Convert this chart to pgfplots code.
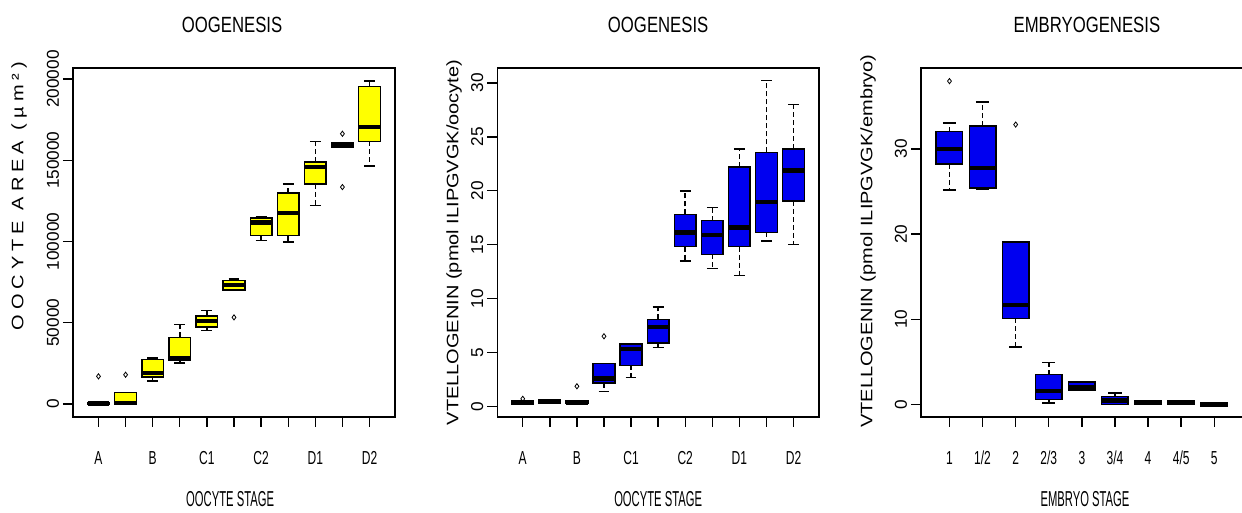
\documentclass[border=0pt]{standalone}
\usepackage{pgfplots}
\pgfplotsset{compat=1.18}
\usepgfplotslibrary{statistics}
\usepackage{fontspec}
\setmainfont{Liberation Sans}
\newfontfamily\titlefont[FakeStretch=0.76]{Liberation Sans}
\newfontfamily\tickfont[FakeStretch=0.64]{Liberation Sans}
\newfontfamily\xlabfont[FakeStretch=0.52]{Liberation Sans}
\newfontfamily\spacedfont[LetterSpace=25]{Liberation Sans}
\definecolor{rblue}{RGB}{0,0,240}
\definecolor{ryellow}{RGB}{255,255,0}
\pgfplotsset{
  rpanel/.style={
    scale only axis, width=161pt, height=174.5pt,
    anchor=south west,
    axis line style={line width=0.75pt},
    tick style={line width=0.7pt, black},
    tick align=outside, major tick length=5pt,
    xtick pos=bottom, ytick pos=left,
    xtick={1,...,11},
    tick label style={font=\tickfont\fontsize{9.4}{10}\selectfont},
    xticklabel style={anchor=center, yshift=-15.5pt},
    yticklabel style={font=\fontsize{8.6}{9}\selectfont, anchor=center, xshift=-5pt, rotate=90},
    title style={font=\titlefont\fontsize{11}{12}\selectfont, anchor=center},
    xlabel style={font=\xlabfont\fontsize{10.8}{12}\selectfont, anchor=center},
    ylabel style={anchor=center},
    boxplot/draw direction=y,
    boxplot/box extend=0.8,
    boxplot/whisker extend=0.4,
    boxplot/every median/.style={line width=2.2pt, black},
    boxplot/draw/lower whisker/.code={%
      \draw[black, line width=0.75pt, dash pattern=on 2.5pt off 1.5pt]
        (boxplot box cs:\pgfplotsboxplotvalue{lower quartile},0.5) --
        (boxplot box cs:\pgfplotsboxplotvalue{lower whisker},0.5);
      \draw[black, line width=0.75pt]
        (boxplot whisker cs:\pgfplotsboxplotvalue{lower whisker},0) --
        (boxplot whisker cs:\pgfplotsboxplotvalue{lower whisker},1);},
    boxplot/draw/upper whisker/.code={%
      \draw[black, line width=0.75pt, dash pattern=on 2.5pt off 1.5pt]
        (boxplot box cs:\pgfplotsboxplotvalue{upper quartile},0.5) --
        (boxplot box cs:\pgfplotsboxplotvalue{upper whisker},0.5);
      \draw[black, line width=0.75pt]
        (boxplot whisker cs:\pgfplotsboxplotvalue{upper whisker},0) --
        (boxplot whisker cs:\pgfplotsboxplotvalue{upper whisker},1);},
  },
  outl/.style={only marks, mark=diamond, mark size=1.3pt, black, line width=0.4pt, forget plot},
}
\begin{document}
\begin{tikzpicture}
\useasboundingbox (0,0) rectangle (621pt,256.5pt);
% ---------------- Panel 1 (values in thousands of um^2) ----------------
\begin{axis}[rpanel, at={(36.5pt,48pt)},
  xmin=0.06, xmax=11.94, ymin=-8, ymax=206.77,
  xticklabels={A,,B,,C1,,C2,,D1,,D2},
  ytick={0,50,100,150,200},
  yticklabels={0,50000,100000,150000,200000},
  boxplot/every box/.style={draw=black, fill=ryellow, line width=0.75pt},
  title={OOGENESIS}, title style={at={(axis description cs:0.494,1.09)}},
  xlabel={OOCYTE STAGE}, xlabel style={at={(axis description cs:0.488,-0.235)}},
  ylabel={\scalebox{1}[0.83]{\spacedfont\fontsize{10}{12}\selectfont OOCYTE AREA (µm²)}},
  ylabel style={at={(axis description cs:-0.1677,0.633)}},
]
\addplot[boxplot prepared={draw position=1, lower whisker=0, lower quartile=0, median=0.3, upper quartile=0.8, upper whisker=1.0}] coordinates {};
\addplot[boxplot prepared={draw position=2, lower whisker=0, lower quartile=0, median=0.6, upper quartile=7.2, upper whisker=7.2}] coordinates {};
\addplot[boxplot prepared={draw position=3, lower whisker=14.0, lower quartile=16.6, median=19.0, upper quartile=27.3, upper whisker=28.3}] coordinates {};
\addplot[boxplot prepared={draw position=4, lower whisker=25.2, lower quartile=26.9, median=28.3, upper quartile=41.0, upper whisker=48.8}] coordinates {};
\addplot[boxplot prepared={draw position=5, lower whisker=45.1, lower quartile=47.4, median=50.9, upper quartile=54.3, upper whisker=57.6}] coordinates {};
\addplot[boxplot prepared={draw position=6, lower whisker=70.0, lower quartile=70.0, median=73.4, upper quartile=76.1, upper whisker=76.9}] coordinates {};
\addplot[boxplot prepared={draw position=7, lower whisker=100.7, lower quartile=103.6, median=111.8, upper quartile=114.4, upper whisker=115.5}] coordinates {};
\addplot[boxplot prepared={draw position=8, lower whisker=99.7, lower quartile=103.6, median=117.5, upper quartile=129.8, upper whisker=135.4}] coordinates {};
\addplot[boxplot prepared={draw position=9, lower whisker=122.2, lower quartile=135.4, median=145.8, upper quartile=148.9, upper whisker=161.6}] coordinates {};
\addplot[boxplot prepared={draw position=10, lower whisker=158.1, lower quartile=158.1, median=159.4, upper quartile=160.6, upper whisker=160.6}] coordinates {};
\addplot[boxplot prepared={draw position=11, lower whisker=146.6, lower quartile=161.6, median=170.4, upper quartile=195.5, upper whisker=198.7}] coordinates {};
\addplot[outl] coordinates {(1,17.0) (2,18.0) (6,53.3) (10,166.3) (10,133.5)};
\end{axis}
% ---------------- Panel 2 ----------------
\begin{axis}[rpanel, at={(248.65pt,48pt)}, width=160.85pt,
  xmin=0.06, xmax=11.94, ymin=-0.99, ymax=31.39,
  xticklabels={A,,B,,C1,,C2,,D1,,D2},
  ytick={0,5,...,30},
  yticklabels={0,5,10,15,20,25,30},
  boxplot/every box/.style={draw=black, fill=rblue, line width=0.75pt},
  title={OOGENESIS}, title style={at={(axis description cs:0.5,1.09)}},
  xlabel={OOCYTE STAGE}, xlabel style={at={(axis description cs:0.5,-0.235)}},
  ylabel={\scalebox{1}[0.83]{\fontsize{10}{12}\selectfont VTELLOGENIN (pmol ILIPGVGK/oocyte)}},
  ylabel style={at={(axis description cs:-0.1346,0.5)}},
]
\addplot[boxplot prepared={draw position=1, lower whisker=0.15, lower quartile=0.2, median=0.35, upper quartile=0.5, upper whisker=0.55}] coordinates {};
\addplot[boxplot prepared={draw position=2, lower whisker=0.25, lower quartile=0.3, median=0.45, upper quartile=0.6, upper whisker=0.62}] coordinates {};
\addplot[boxplot prepared={draw position=3, lower whisker=0.2, lower quartile=0.25, median=0.35, upper quartile=0.5, upper whisker=0.55}] coordinates {};
\addplot[boxplot prepared={draw position=4, lower whisker=1.39, lower quartile=2.17, median=2.57, upper quartile=3.97, upper whisker=3.97}] coordinates {};
\addplot[boxplot prepared={draw position=5, lower whisker=2.67, lower quartile=3.81, median=5.3, upper quartile=5.76, upper whisker=5.76}] coordinates {};
\addplot[boxplot prepared={draw position=6, lower whisker=5.45, lower quartile=5.89, median=7.37, upper quartile=8.06, upper whisker=9.23}] coordinates {};
\addplot[boxplot prepared={draw position=7, lower whisker=13.48, lower quartile=14.81, median=16.11, upper quartile=17.82, upper whisker=19.99}] coordinates {};
\addplot[boxplot prepared={draw position=8, lower whisker=12.77, lower quartile=14.1, median=15.9, upper quartile=17.23, upper whisker=18.44}] coordinates {};
\addplot[boxplot prepared={draw position=9, lower whisker=12.12, lower quartile=14.81, median=16.58, upper quartile=22.19, upper whisker=23.89}] coordinates {};
\addplot[boxplot prepared={draw position=10, lower whisker=15.34, lower quartile=16.15, median=18.93, upper quartile=23.55, upper whisker=30.21}] coordinates {};
\addplot[boxplot prepared={draw position=11, lower whisker=15.03, lower quartile=19.06, median=21.88, upper quartile=23.89, upper whisker=27.98}] coordinates {};
\addplot[outl] coordinates {(1,0.7) (3,1.86) (4,6.5)};
\end{axis}
% ---------------- Panel 3 ----------------
\begin{axis}[rpanel, at={(460.5pt,48pt)}, width=162pt,
  xmin=0.14, xmax=9.929, ymin=-1.45, ymax=39.5,
  xtick={1,...,9},
  xticklabels={1,1/2,2,2/3,3,3/4,4,4/5,5},
  ytick={0,10,20,30},
  yticklabels={0,10,20,30},
  boxplot/every box/.style={draw=black, fill=rblue, line width=0.75pt},
  title={EMBRYOGENESIS}, title style={at={(axis description cs:0.512,1.09)}},
  xlabel={EMBRYO STAGE}, xlabel style={at={(axis description cs:0.506,-0.235)}},
  ylabel={\scalebox{1}[0.83]{\fontsize{10}{12}\selectfont VTELLOGENIN (pmol ILIPGVGK/embryo)}},
  ylabel style={at={(axis description cs:-0.1636,0.504)}},
]
\addplot[boxplot prepared={draw position=1, lower whisker=25.2, lower quartile=28.24, median=30.0, upper quartile=32.04, upper whisker=33.06}] coordinates {};
\addplot[boxplot prepared={draw position=2, lower whisker=25.3, lower quartile=25.41, median=27.76, upper quartile=32.67, upper whisker=35.49}] coordinates {};
\addplot[boxplot prepared={draw position=3, lower whisker=6.78, lower quartile=10.12, median=11.69, upper quartile=19.06, upper whisker=19.06}] coordinates {};
\addplot[boxplot prepared={draw position=4, lower whisker=0.2, lower quartile=0.59, median=1.61, upper quartile=3.53, upper whisker=4.94}] coordinates {};
\addplot[boxplot prepared={draw position=5, lower whisker=1.69, lower quartile=1.69, median=2.08, upper quartile=2.67, upper whisker=2.67}] coordinates {};
\addplot[boxplot prepared={draw position=6, lower whisker=0, lower quartile=0, median=0.5, upper quartile=0.98, upper whisker=1.37}] coordinates {};
\addplot[boxplot prepared={draw position=7, lower whisker=0.1, lower quartile=0.1, median=0.3, upper quartile=0.5, upper whisker=0.5}] coordinates {};
\addplot[boxplot prepared={draw position=8, lower whisker=0.1, lower quartile=0.1, median=0.3, upper quartile=0.5, upper whisker=0.5}] coordinates {};
\addplot[boxplot prepared={draw position=9, lower whisker=-0.2, lower quartile=-0.2, median=0, upper quartile=0.2, upper whisker=0.2}] coordinates {};
\addplot[outl] coordinates {(1,37.96) (3,32.86)};
\end{axis}
\end{tikzpicture}
\end{document}
